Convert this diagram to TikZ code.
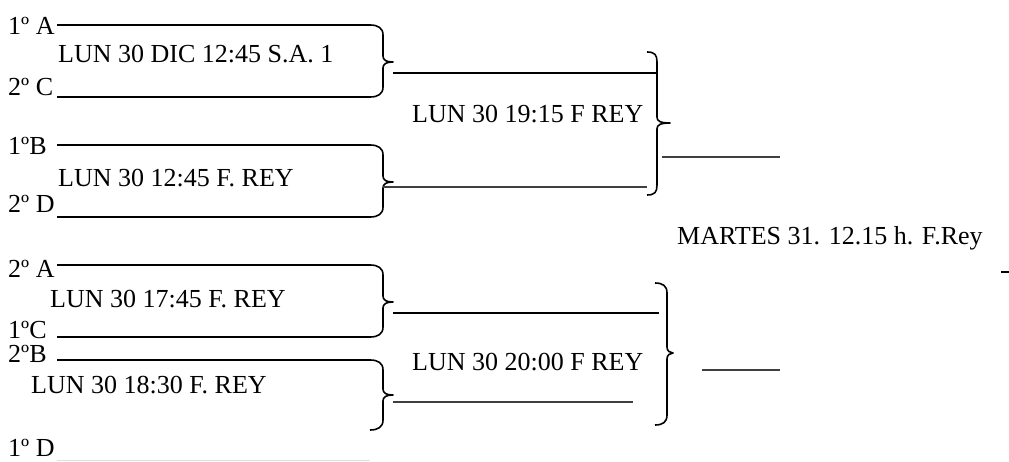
\documentclass[tikz,border=0pt]{standalone}
\usepackage{fontspec}
\setmainfont{Liberation Serif}
\newcommand\bktpath[6]{%
 (#1,#4) .. controls ({#1+8},#4) and (#2,{#4+3}) .. (#2,{#4+10}) -- (#2,{#5-6})
 .. controls (#2,{#5-2}) and ({#2+3},#5) .. (#3,#5)
 .. controls ({#2+3},#5) and (#2,{#5+2}) .. (#2,{#5+6}) -- (#2,{#6-10})
 .. controls (#2,{#6-3}) and ({#1+8},#6) .. (#1,#6)}
\begin{document}
\begin{tikzpicture}[x=1pt,y=-1pt,
  lbl/.style={anchor=base west,inner sep=0pt,font=\fontsize{26}{30}\selectfont},
  ln/.style={line width=1.6pt,black},
  thinln/.style={line width=1.1pt,black!75},
  faint/.style={line width=1pt,black!12},
  bk/.style={line width=1.6pt,black,line join=round}]
\useasboundingbox (0,0) rectangle (1009,462);
% labels
\node[lbl] (a1) at (8,35) {1º A};
\node[lbl] (m1) at (58,63) {LUN 30 DIC 12:45 S.A. 1};
\node[lbl] (c2) at (8,96) {2º C};
\node[lbl] (b1) at (8,155) {1ºB};
\node[lbl] (m2) at (58,187) {LUN 30 12:45 F. REY};
\node[lbl] (d2) at (8,213) {2º D};
\node[lbl] (a2) at (8,278) {2º A};
\node[lbl] (m3) at (50,308) {LUN 30 17:45 F. REY};
\node[lbl] (c1) at (8,338) {1ºC};
\node[lbl] (b2) at (8,362) {2ºB};
\node[lbl] (m4) at (31,393) {LUN 30 18:30 F. REY};
\node[lbl] (d1) at (8,456) {1º D};
\node[lbl] (s1) at (412,123) {LUN 30 19:15 F REY};
\node[lbl] (s2) at (412,370) {LUN 30 20:00 F REY};
\node[lbl] (fin) at (677,245) {MARTES 31. 12.15 h. F.Rey};
% coordinates
\coordinate (a1s) at (57,25);  \coordinate (c2s) at (57,97);
\coordinate (b1s) at (57,145); \coordinate (d2s) at (57,217);
\coordinate (a2s) at (57,265); \coordinate (c1s) at (57,337);
\coordinate (b2s) at (57,360); \coordinate (d1s) at (57,460);
\coordinate (d1e) at (370,460);
\coordinate (t1) at (393,73);  \coordinate (t1e) at (657,73);
\coordinate (t2) at (383,187); \coordinate (t2e) at (647,187);
\coordinate (t3) at (393,313); \coordinate (t3e) at (659,313);
\coordinate (t4) at (393,402); \coordinate (t4e) at (633,402);
\coordinate (o1) at (662,157); \coordinate (o1e) at (780,157);
\coordinate (o2) at (702,370); \coordinate (o2e) at (780,370);
\coordinate (k1) at (1001,272); \coordinate (k1e) at (1009,272);
% first-round brackets
\draw[bk] (a1s) -- (370,25) -- \bktpath{370}{383}{393}{25}{62}{97} -- (c2s);
\draw[bk] (b1s) -- (370,145) -- \bktpath{370}{383}{393}{145}{182}{217} -- (d2s);
\draw[bk] (a2s) -- (370,265) -- \bktpath{370}{383}{393}{265}{302}{337} -- (c1s);
\draw[bk] (b2s) -- (370,360) -- \bktpath{370}{383}{393}{360}{395}{430};
\draw[faint] (d1s) -- (d1e);
% second-round lines
\draw[ln] (t1) -- (t1e);
\draw[thinln] (t2) -- (t2e);
\draw[ln] (t3) -- (t3e);
\draw[thinln] (t4) -- (t4e);
% second-round braces
\draw[bk] \bktpath{647}{657}{670}{52}{123}{195};
\draw[bk] \bktpath{655}{667}{673}{283}{353}{425};
% outputs
\draw[thinln] (o1) -- (o1e);
\draw[thinln] (o2) -- (o2e);
\draw[ln] (k1) -- (k1e);
\end{tikzpicture}
\end{document}
